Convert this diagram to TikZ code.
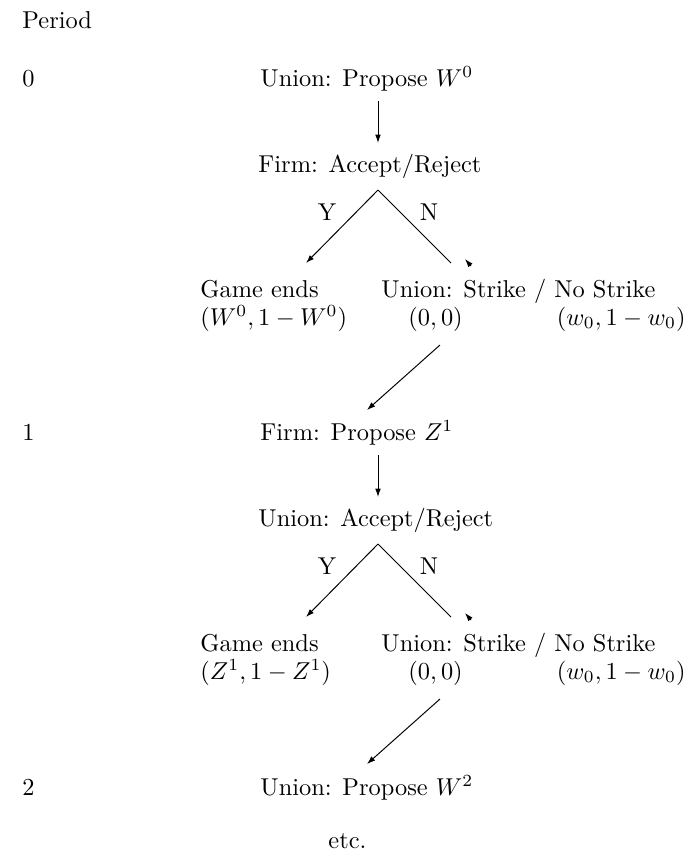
\documentclass[tikz,border=0pt]{standalone}
\usetikzlibrary{arrows.meta}
\begin{document}
\begin{tikzpicture}[x=0.41pt,y=-0.41pt,
  lbl/.style={inner sep=0pt, anchor=base west},
  rlbl/.style={inner sep=0pt, anchor=base east},
  clbl/.style={inner sep=0pt, anchor=base},
  arr/.style={-{Latex[length=3.4pt,width=2.3pt]}, line width=0.4pt},
  ln/.style={line width=0.4pt}]
\useasboundingbox (0,0) rectangle (688,867);
% labels column
\node[lbl] (period) at (22,28) {Period};
\node[lbl] (t0) at (22,86) {0};
\node[lbl] (t1) at (22,440) {1};
\node[lbl] (t2) at (22,795) {2};
% period 0
\node[lbl] (p0) at (260,86) {Union: Propose $W^0$};
\node[lbl] (a0) at (258,172) {Firm: Accept/Reject};
\node[clbl] (y0) at (327,220) {Y};
\node[clbl] (n0) at (429,220) {N};
\node[lbl] (g0) at (200,297) {Game ends};
\node[lbl] (gp0) at (200,325) {$(W^0,1-W^0)$};
\node[lbl] (s0) at (381,297) {Union: Strike / No Strike};
\node[lbl] (z0) at (408,325) {$(0,0)$};
\node[rlbl] (w0) at (686,325) {$(w_0,1-w_0)$};
\coordinate (d0a) at (378,101);
\coordinate (d0b) at (378,143);
\coordinate (ap0) at (378,190);
\coordinate (ye0) at (306,263);
\coordinate (ne0) at (451,263);
\coordinate (hA0) at (471,266);
\coordinate (hB0) at (465,259);
\coordinate (sa0) at (440,345);
\coordinate (sb0) at (367,410);
\draw[arr] (d0a) -- (d0b);
\draw[arr] (ap0) -- (ye0);
\draw[ln] (ap0) -- (ne0);
\draw[arr] (hA0) -- (hB0);
\draw[arr] (sa0) -- (sb0);
% period 1
\node[lbl] (p1) at (260,440) {Firm: Propose $Z^1$};
\node[lbl] (a1) at (258,526) {Union: Accept/Reject};
\node[clbl] (y1) at (327,574) {Y};
\node[clbl] (n1) at (429,574) {N};
\node[lbl] (g1) at (200,651) {Game ends};
\node[lbl] (gp1) at (200,679) {$(Z^1,1-Z^1)$};
\node[lbl] (s1) at (381,651) {Union: Strike / No Strike};
\node[lbl] (z1) at (408,679) {$(0,0)$};
\node[rlbl] (w1) at (686,679) {$(w_0,1-w_0)$};
\coordinate (d1a) at (378,455);
\coordinate (d1b) at (378,497);
\coordinate (ap1) at (378,544);
\coordinate (ye1) at (306,617);
\coordinate (ne1) at (451,617);
\coordinate (hA1) at (471,620);
\coordinate (hB1) at (465,613);
\coordinate (sa1) at (440,699);
\coordinate (sb1) at (367,764);
\draw[arr] (d1a) -- (d1b);
\draw[arr] (ap1) -- (ye1);
\draw[ln] (ap1) -- (ne1);
\draw[arr] (hA1) -- (hB1);
\draw[arr] (sa1) -- (sb1);
% period 2
\node[lbl] (p2) at (260,795) {Union: Propose $W^2$};
\node[lbl] (etc) at (328,848) {etc.};
\end{tikzpicture}
\end{document}
